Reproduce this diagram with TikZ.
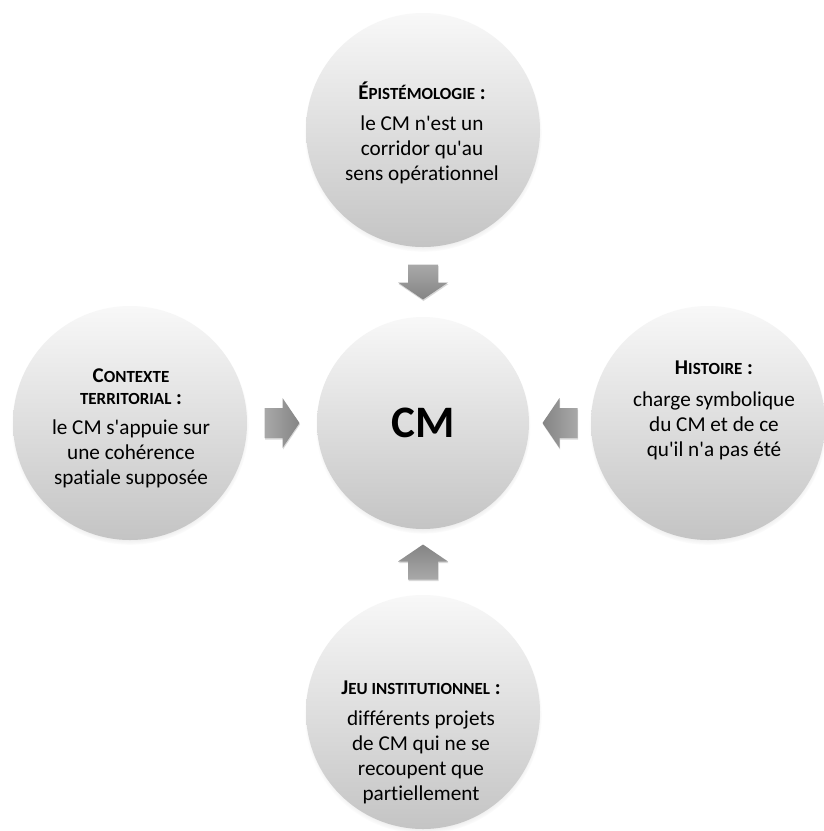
\documentclass[tikz,border=0pt]{standalone}
\usepackage{fontspec}
\setmainfont{Carlito}[Ligatures={TeXOff,NoCommon}]
\usetikzlibrary{calc,shadows,fadings}
\definecolor{circtop}{HTML}{F8F8F8}
\definecolor{circbot}{HTML}{C4C4C4}
\definecolor{arrtail}{HTML}{A9A9A9}
\definecolor{arrtip}{HTML}{848484}
\newcommand{\smc}[1]{{\fontsize{17}{17}\selectfont #1}}
\newcommand{\ttl}[1]{{\fontsize{21}{25}\selectfont\bfseries #1}}
\newcommand{\blockarrow}[3]{%
  \begin{scope}[shift={#1},rotate=#2]
    \shade[blockarr,#3] (-17.5,-15) -- (0.5,-15) -- (0.5,-25) -- (17.5,0)
      -- (0.5,25) -- (0.5,15) -- (-17.5,15) -- cycle;
  \end{scope}}
\tikzset{
  bubble/.style={circle, inner sep=0pt, draw=none, top color=circtop, bottom color=circbot,
    circular drop shadow={shadow xshift=0pt, shadow yshift=-3pt, shadow scale=1.015, opacity=0.4}},
  outerbub/.style={bubble, minimum size=234pt},
  innerbub/.style={bubble, minimum size=212pt},
  lbl/.style={anchor=base, inner sep=0pt, font=\fontsize{21.2}{25}\selectfont},
  blockarr/.style={draw=none, drop shadow={shadow xshift=0.5pt, shadow yshift=-1.5pt, opacity=0.3}}
}
\begin{document}
\begin{tikzpicture}[x=1pt,y=-1pt]
\useasboundingbox (0,0) rectangle (823,831);
\fill[white] (0,0) rectangle (823,831);

\node[outerbub] (top) at (423,130) {};
\node[outerbub] (left) at (130,423) {};
\node[outerbub] (right) at (708,423) {};
\node[outerbub] (bot) at (423,712) {};
\node[innerbub] (cm) at (423,423) {\fontsize{45}{45}\selectfont\bfseries CM};

\blockarrow{($(top.south)!0.5!(cm.north)$)}{-90}{top color=arrtail, bottom color=arrtip}
\blockarrow{($(left.east)!0.5!(cm.west)$)}{0}{left color=arrtail, right color=arrtip}
\blockarrow{($(right.west)!0.5!(cm.east)$)}{180}{right color=arrtail, left color=arrtip}
\blockarrow{($(bot.north)!0.5!(cm.south)$)}{90}{bottom color=arrtail, top color=arrtip}

\node[lbl] (lTop) at (422,99) {\begin{tabular}[t]{@{}c@{}}\ttl{É\smc{PISTÉMOLOGIE} :}\\[6pt]
  le CM n'est un\\ corridor qu'au\\ sens opérationnel\end{tabular}};
\node[lbl] (lLeft) at (131,382) {\begin{tabular}[t]{@{}c@{}}\ttl{C\smc{ONTEXTE}}\\[-3pt]
  \ttl{\smc{TERRITORIAL} :}\\[5pt]
  le CM s'appuie sur\\ une cohérence\\ spatiale supposée\end{tabular}};
\node[lbl] (lRight) at (714,374) {\begin{tabular}[t]{@{}c@{}}\ttl{H\smc{ISTOIRE} :}\\[7pt]
  charge symbolique\\ du CM et de ce\\ qu'il n'a pas été\end{tabular}};
\node[lbl] (lBot) at (421,694) {\begin{tabular}[t]{@{}c@{}}\ttl{J\smc{EU INSTITUTIONNEL} :}\\[6pt]
  différents projets\\ de CM qui ne se\\ recoupent que\\ partiellement\end{tabular}};
\end{tikzpicture}
\end{document}
